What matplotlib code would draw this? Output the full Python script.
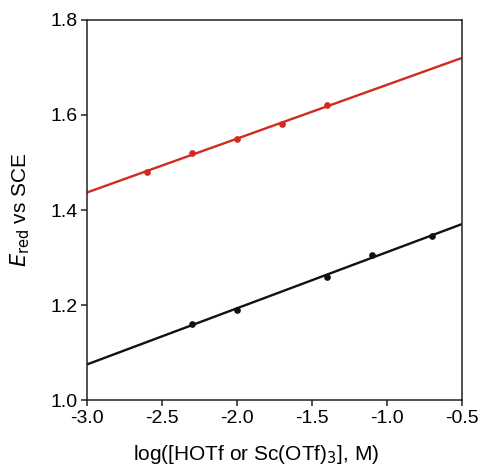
import numpy as np
import matplotlib
matplotlib.use("Agg")
import matplotlib.pyplot as plt

plt.rcParams['font.family'] = ['Liberation Sans', 'DejaVu Sans']

# log of acid concentration and reduction potentials
x_hotf = [-2.6, -2.3, -2.0, -1.7, -1.4]
e_hotf = [1.48, 1.52, 1.55, 1.58, 1.62]

x_sc = [-2.3, -2.0, -1.4, -1.1, -0.7]
e_sc = [1.16, 1.19, 1.26, 1.305, 1.345]

x_ticks = [-3.0, -2.5, -2.0, -1.5, -1.0, -0.5]
y_ticks = [1.0, 1.2, 1.4, 1.6, 1.8]

fig = plt.figure(figsize=(4.79, 4.66), dpi=100)
ax = fig.add_axes([0.181, 0.1416, 0.783, 0.8155])

xline = np.array([-3.0, -0.5])
for xs, ys, col in [(x_hotf, e_hotf, '#d12a1e'), (x_sc, e_sc, '#111111')]:
    k, b = np.polyfit(xs, ys, 1)
    ax.plot(xline, k * xline + b, color=col, lw=1.7, solid_capstyle='butt', zorder=2)
    ax.plot(xs, ys, 'o', color=col, ms=3.8, zorder=3)

ax.set_xlim(-3.0, -0.5)
ax.set_ylim(1.0, 1.8)
ax.set_xticks(x_ticks)
ax.set_xticklabels([f"{v:.1f}" for v in x_ticks])
ax.set_yticks(y_ticks)
ax.set_yticklabels([f"{v:.1f}" for v in y_ticks])
ax.tick_params(direction='out', length=4.5, width=1.1, labelsize=14, color='#222222',
               top=False, right=False)
ax.tick_params(axis='x', pad=3)
ax.tick_params(axis='y', pad=2)
for s in ax.spines.values():
    s.set_linewidth(1.1)
    s.set_color('#222222')

ax.set_xlabel('log([HOTf or Sc(OTf)$_3$], M)', fontsize=15, labelpad=11, x=0.451)
ax.set_ylabel(r'$\mathit{E}_{\mathrm{red}}$ vs SCE', fontsize=15, labelpad=13)

fig.savefig('out.png', dpi=100)
